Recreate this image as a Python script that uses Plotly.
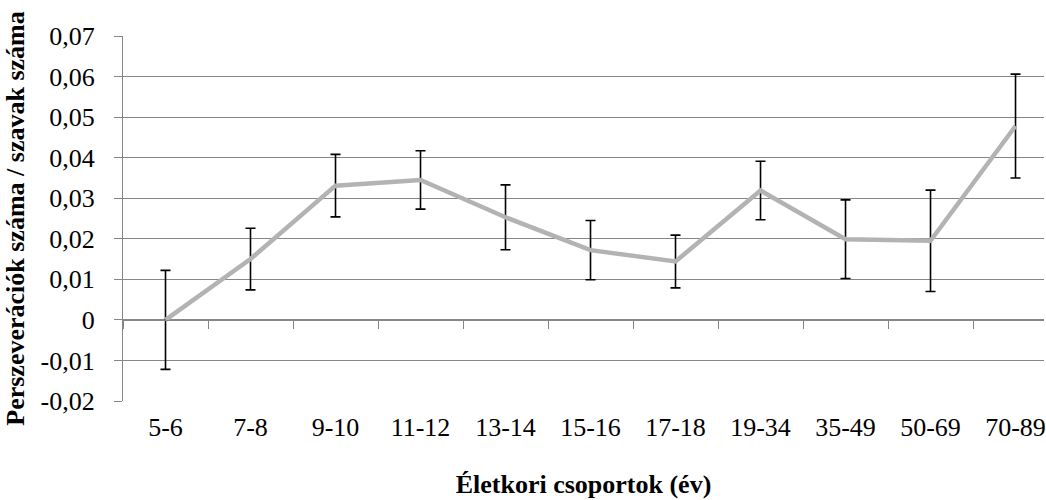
import plotly.graph_objects as go

categories = ["5-6", "7-8", "9-10", "11-12", "13-14", "15-16", "17-18", "19-34", "35-49", "50-69", "70-89"]
values = [0.0, 0.0150, 0.0331, 0.0345, 0.0253, 0.0172, 0.0144, 0.0319, 0.0199, 0.0195, 0.0478]
errors = [0.0122, 0.0076, 0.0077, 0.0072, 0.0080, 0.0073, 0.0065, 0.0072, 0.0097, 0.0125, 0.0128]
y_tickvals = [-0.02, -0.01, 0, 0.01, 0.02, 0.03, 0.04, 0.05, 0.06, 0.07]
y_ticktext = ["-0,02", "-0,01", "0", "0,01", "0,02", "0,03", "0,04", "0,05", "0,06", "0,07"]
x_title = "Életkori csoportok (év)"
y_title = "Perszeverációk száma / szavak száma"

idx = list(range(len(categories)))
boundaries = [i - 0.5 for i in range(len(categories) + 1)]

FONT = "Liberation Serif, Times New Roman, serif"
GRID = "#868686"

fig = go.Figure()
fig.add_trace(go.Scatter(
    x=idx, y=values, mode="lines",
    line=dict(color="#b3b3b3", width=4.5),
    error_y=dict(type="data", array=errors, visible=True, color="#000000", thickness=1.6, width=5),
    showlegend=False, hoverinfo="skip",
))
# invisible trace to carry the zero-line axis with category-boundary ticks
fig.add_trace(go.Scatter(x=boundaries, y=[None] * len(boundaries), xaxis="x2", yaxis="y",
                         mode="markers", showlegend=False, hoverinfo="skip"))

y0, y1 = -0.02, 0.07
zero_frac = (0 - y0) / (y1 - y0)
xr = [-0.5, 10.335]

fig.update_layout(
    width=1046, height=500,
    margin=dict(l=123, r=0, t=36, b=98.5),
    paper_bgcolor="white", plot_bgcolor="white",
    font=dict(family=FONT, size=26, color="#000000"),
    xaxis=dict(
        range=xr, tickmode="array", tickvals=idx, ticktext=categories,
        showgrid=False, zeroline=False, showline=False, ticks="",
        tickfont=dict(size=26), ticklabelstandoff=8, ticklabeloverflow="allow",
        title=dict(text="<b>" + x_title + "</b>", font=dict(size=26), standoff=33),
    ),
    xaxis2=dict(
        range=xr, overlaying="x", anchor="free", position=zero_frac,
        tickmode="array", tickvals=boundaries, showticklabels=False,
        ticks="outside", ticklen=8, tickwidth=1.3, tickcolor=GRID,
        showline=True, linecolor=GRID, linewidth=1.3, showgrid=False, zeroline=False,
    ),
    yaxis=dict(
        range=[y0, y1], tickmode="array", tickvals=y_tickvals, ticktext=y_ticktext,
        showgrid=True, gridcolor=GRID, gridwidth=1.3, zeroline=False,
        showline=True, linecolor=GRID, linewidth=1.3,
        ticks="outside", ticklen=8, tickwidth=1.3, tickcolor=GRID,
        tickfont=dict(size=26), ticklabelstandoff=14,
        title=dict(text="<b>" + y_title + "</b>", font=dict(size=26), standoff=8),
    ),
)

fig.write_html("out.html")
